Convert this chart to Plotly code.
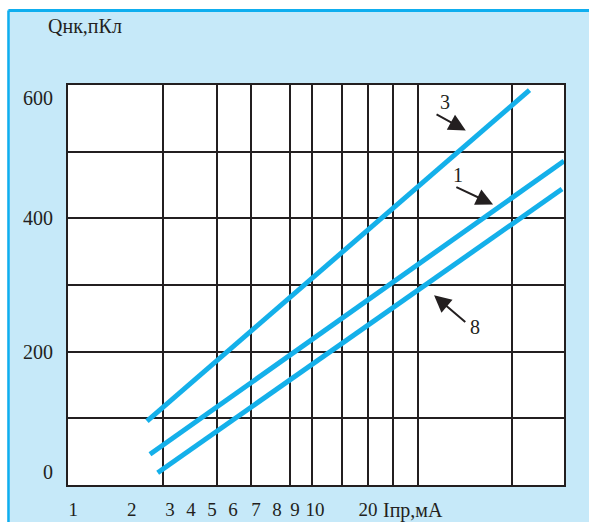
import plotly.graph_objects as go

# ---- data ----
# x: position along the printed (non-uniform, log-like) current scale, 0..100 of the axis
x_grid_pos = [0, 19.15, 30.04, 36.83, 44.76, 49.19, 55.24, 60.48, 65.52, 70.56, 89.52, 100]
x_tick_pos = [1.07, 12.84, 20.56, 24.8, 29.03, 33.27, 37.9, 42.14, 45.77, 49.8, 60.48]
x_tick_text = ["1", "2", "3", "4", "5", "6", "7", "8", "9", "10", "20"]

y_grid = [0, 100, 200, 300, 400, 500, 600]
y_tick_pos = [20, 200, 400, 580]
y_tick_text = ["0", "200", "400", "600"]

curve_names = ["3", "1", "8"]
curve_x = [[15.93, 93.04], [16.53, 100.0], [18.08, 99.6]]
curve_q = [[95.9, 592.3], [46.0, 486.0], [18.4, 443.9]]

arrow_tail_x = [74.0, 78.0, 80.4]
arrow_tail_q = [557.3, 447.9, 242.7]
arrow_head_x = [80.2, 85.7, 73.8]
arrow_head_q = [531.8, 420.9, 284.6]
label_x = [76.0, 78.7, 82.1]
label_q = [574.2, 464.4, 237.1]

INK = "#231F20"
LIGHT = "#C6E9F9"
FRAME = "#0FAEEF"
CURVE = "#14B0EA"
FONT = dict(family="Liberation Serif, Times New Roman, serif", size=20, color=INK)
XFONT = dict(FONT, size=19)

fig = go.Figure()
for name, xs, qs in zip(curve_names, curve_x, curve_q):
    fig.add_trace(go.Scatter(x=xs, y=qs, mode="lines", name=name,
                             line=dict(color=CURVE, width=5), showlegend=False,
                             hoverinfo="skip"))
# empty traces so the label-only overlay axes are drawn
fig.add_trace(go.Scatter(x=[], y=[], xaxis="x2", yaxis="y", showlegend=False, hoverinfo="skip"))
fig.add_trace(go.Scatter(x=[], y=[], xaxis="x", yaxis="y2", showlegend=False, hoverinfo="skip"))

annotations = []
for tx, tq, hx, hq, lx, lq, t in zip(arrow_tail_x, arrow_tail_q, arrow_head_x,
                                     arrow_head_q, label_x, label_q, curve_names):
    annotations.append(dict(x=hx, y=hq, ax=tx, ay=tq, xref="x", yref="y",
                            axref="x", ayref="y", text="", showarrow=True,
                            arrowhead=2, arrowsize=1.7, arrowwidth=2,
                            arrowcolor=INK, standoff=0, startstandoff=0))
    annotations.append(dict(x=lx, y=lq, xref="x", yref="y", text=t,
                            showarrow=False, font=FONT))

annotations.append(dict(x=-0.0444, y=1.147, xref="paper", yref="paper",
                        xanchor="left", yanchor="middle", text="Qнк,пКл",
                        showarrow=False, font=FONT))
annotations.append(dict(x=63.1, y=-0.063, xref="x", yref="paper",
                        xanchor="left", yanchor="middle", text="Iпр,мА",
                        showarrow=False, font=dict(FONT, size=20)))

shapes = [
    # white page outside the blue panel (top and left strips)
    dict(type="rect", xref="paper", yref="paper", x0=-0.2, x1=1.2, y0=1.19, y1=1.3,
         fillcolor="white", line=dict(width=0), layer="below"),
    dict(type="rect", xref="paper", yref="paper", x0=-0.2, x1=-0.1215, y0=-0.2, y1=1.3,
         fillcolor="white", line=dict(width=0), layer="below"),
    # blue panel frame lines
    dict(type="line", xref="paper", yref="paper", x0=-0.12, x1=1.2, y0=1.1863, y1=1.1863,
         line=dict(color=FRAME, width=3), layer="below"),
    dict(type="line", xref="paper", yref="paper", x0=-0.12, x1=-0.12, y0=-0.2, y1=1.1863,
         line=dict(color=FRAME, width=2.5), layer="below"),
]

fig.update_layout(
    width=589, height=522, autosize=False,
    margin=dict(l=68, r=25, t=85, b=37, pad=0, autoexpand=False),
    paper_bgcolor=LIGHT, plot_bgcolor="white",
    font=FONT,
    showlegend=False,
    annotations=annotations,
    shapes=shapes,
    xaxis=dict(range=[0, 100], tickmode="array", tickvals=x_grid_pos,
               showticklabels=False, ticks="", showgrid=True, gridcolor=INK,
               gridwidth=2, zeroline=False, showline=True, mirror=True,
               linecolor=INK, linewidth=2, fixedrange=True, automargin=False),
    xaxis2=dict(range=[0, 100], overlaying="x", anchor="y", side="bottom",
                tickmode="array", tickvals=x_tick_pos, ticktext=x_tick_text,
                showgrid=False, zeroline=False, showline=False, ticks="",
                ticklabelstandoff=11, tickfont=XFONT, fixedrange=True, automargin=False),
    yaxis=dict(range=[0, 600], tickmode="array", tickvals=y_grid,
               showticklabels=False, ticks="", showgrid=True, gridcolor=INK,
               gridwidth=2, zeroline=False, showline=True, mirror=True,
               linecolor=INK, linewidth=2, fixedrange=True, automargin=False),
    yaxis2=dict(range=[0, 600], overlaying="y", anchor="x", side="left",
                tickmode="array", tickvals=y_tick_pos, ticktext=y_tick_text,
                showgrid=False, zeroline=False, showline=False, ticks="",
                ticklabelstandoff=14, tickfont=FONT, fixedrange=True, automargin=False),
)

fig.write_html("out.html", config={"displayModeBar": False},
               post_script="document.body.style.margin='0';document.body.style.overflow='hidden';")
